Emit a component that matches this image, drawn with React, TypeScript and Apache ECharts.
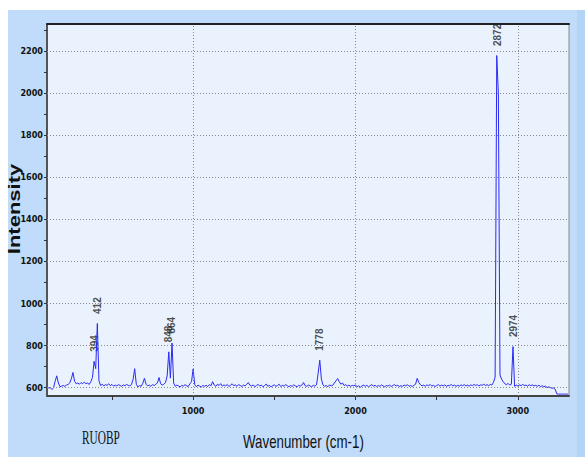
import React, { useEffect, useRef } from "react";
import * as echarts from "echarts";

const waveStart = 100;
const waveStep = 10;

const intensity100to990 = [
  602, 598, 600, 591, 598, 630, 656, 622, 604, 607, // 100
  610, 606, 612, 615, 622, 642, 672, 630, 618, 622, // 200
  616, 624, 619, 626, 618, 622, 615, 628, 648, 725, // 300
  690, 905, 632, 610, 616, 608, 614, 611, 618, 609, // 400
  615, 607, 612, 608, 614, 610, 606, 613, 609, 615, // 500
  611, 608, 614, 638, 690, 616, 603, 610, 606, 620, // 600
  644, 616, 608, 612, 606, 614, 610, 616, 622, 648, // 700
  618, 612, 616, 624, 655, 770, 645, 812, 622, 606, // 800
  612, 608, 603, 611, 607, 614, 609, 605, 618, 628, // 900
];

const intensity1000to1990 = [
  688, 614, 604, 612, 607, 603, 610, 606, 611, 605, // 1000
  614, 609, 628, 612, 606, 616, 610, 619, 607, 613, // 1100
  608, 615, 605, 611, 618, 609, 613, 606, 614, 610, // 1200
  605, 612, 608, 616, 624, 611, 607, 613, 604, 610, // 1300
  615, 608, 612, 604, 610, 617, 606, 611, 603, 609, // 1400
  613, 606, 610, 616, 605, 611, 607, 614, 609, 604, // 1500
  610, 606, 613, 608, 604, 611, 607, 612, 624, 609, // 1600
  606, 612, 608, 604, 611, 607, 613, 668, 730, 640, // 1700
  612, 606, 610, 604, 613, 608, 611, 622, 632, 643, // 1800
  628, 616, 622, 610, 614, 607, 612, 606, 611, 608, // 1900
];

const intensity2000to2990 = [
  613, 604, 609, 602, 608, 612, 606, 611, 604, 609, // 2000
  614, 607, 611, 605, 610, 606, 613, 608, 604, 610, // 2100
  607, 612, 605, 610, 614, 608, 611, 605, 609, 606, // 2200
  612, 608, 614, 606, 610, 605, 611, 616, 644, 624, // 2300
  614, 608, 612, 606, 613, 609, 615, 607, 611, 605, // 2400
  610, 614, 607, 612, 608, 613, 606, 611, 609, 615, // 2500
  608, 612, 606, 611, 607, 613, 609, 614, 608, 612, // 2600
  607, 613, 609, 615, 610, 614, 608, 613, 611, 616, // 2700
  610, 614, 609, 615, 612, 625, 650, 2180, 2000, 660, // 2800
  640, 628, 618, 614, 620, 612, 616, 795, 606, 612, // 2900
];

const intensity3000to3310 = [
  608, 613, 609, 615, 610, 612, 607, 614, 609, 613, // 3000
  608, 611, 606, 612, 604, 609, 603, 607, 600, 604, // 3100
  600, 597, 598, 592, 570, 569, 569, 569, 569, 569, // 3200
  569, 569, // 3300
];

// Labelled peaks
const peakWavenumbers = [394, 412, 848, 864, 1778, 2872, 2974];
const peakIntensities = [725, 905, 770, 812, 730, 2180, 795];

// Axes
const xRange = [100, 3315];
const yRange = [560, 2330];
const xTickValues = [500, 1000, 1500, 2000, 2500, 3000];
const xLabelValues = [1000, 2000, 3000];
const yTickValues = [600, 700, 800, 900, 1000, 1100, 1200, 1300, 1400, 1500, 1600, 1700, 1800, 1900, 2000, 2100, 2200, 2300];
const yLabelValues = [600, 800, 1000, 1200, 1400, 1600, 1800, 2000, 2200];
const xGridValues = [1000, 2000, 3000];
const yGridValues = [600, 800, 1000, 1200, 1400, 1600, 1800, 2000, 2200];

export default function App() {
  const ref = useRef<HTMLDivElement>(null);

  useEffect(() => {
    if (!ref.current) return;
    const chart = echarts.init(ref.current, null, { renderer: "svg" });

    const allIntensity = [
      ...intensity100to990,
      ...intensity1000to1990,
      ...intensity2000to2990,
      ...intensity3000to3310,
    ];
    const spectrum = allIntensity.map((v, i) => [waveStart + i * waveStep, v]);
    const peaks = peakWavenumbers.map((w, i) => [w, peakIntensities[i]]);

    const narrow = '"Liberation Sans Narrow", "DejaVu Sans Condensed", sans-serif';
    const plain = (v: number) => String(v);

    chart.setOption({
      animation: false,
      backgroundColor: "#ffffff",
      graphic: [
        {
          type: "rect",
          silent: true,
          z: -10,
          shape: { x: 8, y: 10, width: 577, height: 447 },
          style: { fill: "#c0dcfa" },
        },
        {
          type: "rect",
          silent: true,
          z: -10,
          shape: { x: 577, y: 10, width: 8, height: 447 },
          style: { fill: "#b3d3f7" },
        },
        {
          type: "text",
          x: 15,
          y: 209,
          rotation: Math.PI / 2,
          scaleY: 0.72,
          style: {
            text: "Intensity",
            font: 'bold 22px "Liberation Sans", Arial, sans-serif',
            fill: "#111",
            align: "center",
            verticalAlign: "middle",
          },
        },
        {
          type: "text",
          x: 243,
          y: 442,
          scaleX: 0.74,
          style: {
            text: "Wavenumber (cm-1)",
            font: '18px "Liberation Sans", Arial, sans-serif',
            fill: "#111",
            align: "left",
            verticalAlign: "middle",
          },
        },
        {
          type: "text",
          x: 82,
          y: 438,
          scaleX: 0.63,
          style: {
            text: "RUOBP",
            font: '18px "Liberation Serif", serif',
            fill: "#111",
            align: "left",
            verticalAlign: "middle",
          },
        },
      ],
      grid: {
        left: 47,
        top: 24,
        right: 16,
        bottom: 61,
        show: true,
        backgroundColor: "#eaf3fd",
        borderColor: "#888",
        borderWidth: 1,
      },
      xAxis: [
        {
          type: "value",
          min: xRange[0],
          max: xRange[1],
          axisLine: { show: true, onZero: false, lineStyle: { color: "#444", width: 2 } },
          axisTick: { show: true, customValues: xTickValues, length: 4, lineStyle: { color: "#333" } },
          axisLabel: {
            customValues: xLabelValues,
            formatter: plain,
            margin: 10,
            fontSize: 9,
            fontWeight: "bold",
            fontFamily: narrow,
            color: "#111",
          },
          splitLine: { show: false },
        },
        {
          type: "value",
          position: "top",
          min: xRange[0],
          max: xRange[1],
          axisLine: { show: true, onZero: false, lineStyle: { color: "#222", width: 2 } },
          axisTick: { show: false },
          axisLabel: { show: false },
          splitLine: { show: false },
        },
      ],
      yAxis: {
        type: "value",
        min: yRange[0],
        max: yRange[1],
        axisLine: { show: true, onZero: false, lineStyle: { color: "#333", width: 1.5 } },
        axisTick: { show: true, customValues: yTickValues, length: 3, lineStyle: { color: "#333" } },
        axisLabel: {
          customValues: yLabelValues,
          formatter: plain,
          margin: 4,
          fontSize: 9,
          fontWeight: "bold",
          fontFamily: narrow,
          color: "#111",
        },
        splitLine: { show: false },
      },
      series: [
        {
          type: "scatter",
          xAxisIndex: 0,
          data: peaks,
          symbolSize: 1,
          z: 1,
          itemStyle: { color: "rgba(0,0,0,0)" },
          emphasis: { disabled: true },
          label: {
            show: true,
            formatter: (p: any) => String(p.value[0]),
            rotate: 90,
            position: [0.5, -9],
            align: "left",
            verticalAlign: "middle",
            fontSize: 10,
            fontWeight: "bold",
            fontFamily: '"Liberation Sans", Arial, sans-serif',
            color: "#222",
          },
          markLine: {
            silent: true,
            symbol: "none",
            label: { show: false },
            lineStyle: { color: "#888", type: [1, 2], width: 1 },
            data: [
              ...xGridValues.map((v) => ({ xAxis: v })),
              ...yGridValues.map((v) => ({ yAxis: v })),
            ],
          },
        },
        {
          type: "line",
          xAxisIndex: 0,
          data: spectrum,
          showSymbol: false,
          symbol: "none",
          z: 3,
          lineStyle: { color: "#2a2af2", width: 1 },
          emphasis: { disabled: true },
        },
      ],
    });

    return () => chart.dispose();
  }, []);

  return (
    <div
      ref={ref}
      style={{ position: "absolute", left: 0, top: 0, width: 585, height: 457 }}
    />
  );
}
